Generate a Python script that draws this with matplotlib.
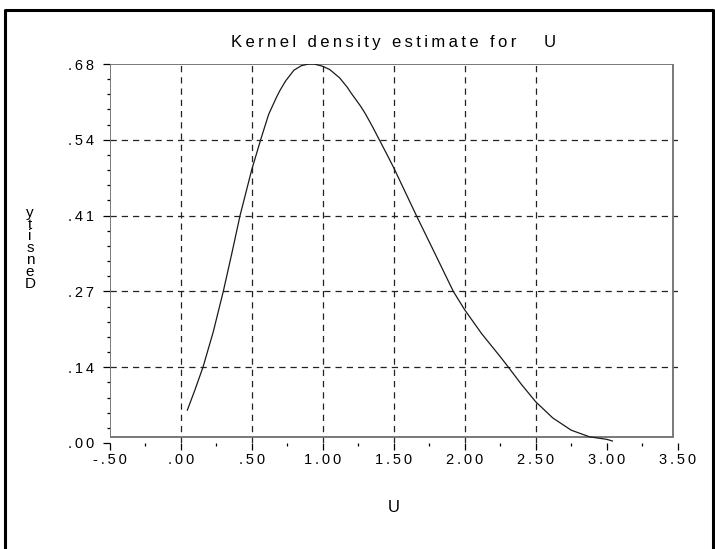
import matplotlib.pyplot as plt
from matplotlib.patches import Rectangle
from matplotlib.lines import Line2D
from matplotlib.ticker import FixedLocator, FixedFormatter, MultipleLocator

plt.rcParams['font.family'] = ['Liberation Sans', 'DejaVu Sans']

# kernel density curve
u = [0.047, 0.10, 0.157, 0.23, 0.30, 0.36, 0.418, 0.50, 0.563, 0.62, 0.676,
     0.70, 0.74, 0.798, 0.85, 0.90, 0.939, 1.0, 1.05, 1.12, 1.174, 1.20, 1.268,
     1.30, 1.35, 1.399, 1.45, 1.5, 1.58, 1.66, 1.80, 1.92, 2.0, 2.12, 2.25,
     2.308, 2.40, 2.5, 2.62, 2.75, 2.88, 3.0, 3.04]
dens = [0.059, 0.095, 0.136, 0.20, 0.272, 0.34, 0.408, 0.49, 0.544, 0.59, 0.621,
        0.633, 0.650, 0.669, 0.677, 0.680, 0.680, 0.676, 0.670, 0.655, 0.638, 0.628, 0.604,
        0.591, 0.568, 0.544, 0.519, 0.494, 0.451, 0.408, 0.335, 0.272, 0.239, 0.196, 0.155,
        0.136, 0.105, 0.074, 0.045, 0.023, 0.011, 0.0066, 0.0036]

x_ticks = [-0.5, 0.0, 0.5, 1.0, 1.5, 2.0, 2.5, 3.0, 3.5]
x_labels = ['-.50', '.00', '.50', '1.00', '1.50', '2.00', '2.50', '3.00', '3.50']
y_ticks = [0.0, 0.136, 0.272, 0.408, 0.544, 0.68]
y_labels = ['.00', '.14', '.27', '.41', '.54', '.68']


def spaced(s):
    # the original renderer sets its text with wide letter spacing
    return '\u2009'.join(s)


fig = plt.figure(figsize=(7.15, 5.49), dpi=100)
ax = fig.add_axes([0.1534, 0.1931, 0.7944, 0.6903])
ax.set_xlim(-0.5, 3.5)
ax.set_ylim(0, 0.68)
for s in ax.spines.values():
    s.set_visible(False)

# plot box (sits a little above y=0, as in the original)
ax.add_patch(Rectangle((-0.5, 0.01), 3.965, 0.67, fill=False,
                       edgecolor='#6e6e6e', linewidth=1.3, zorder=3))

for xv in x_ticks[1:-2]:
    ax.axvline(xv, color='#222222', linewidth=0.9, dashes=(5, 4), zorder=1)
for yv in y_ticks[1:-1]:
    ax.axhline(yv, color='#222222', linewidth=0.9, dashes=(5, 4), zorder=1)

ax.plot(u, dens, color='#1a1a1a', linewidth=0.9, zorder=4)

ax.xaxis.set_major_locator(FixedLocator(x_ticks))
ax.xaxis.set_major_formatter(FixedFormatter([spaced(t) for t in x_labels]))
ax.xaxis.set_minor_locator(MultipleLocator(0.25))
ax.yaxis.set_major_locator(FixedLocator(y_ticks))
ax.yaxis.set_major_formatter(FixedFormatter([spaced(t) for t in y_labels]))
ax.yaxis.set_minor_locator(MultipleLocator(0.68 / 25))
ax.tick_params(which='major', direction='out', length=5, width=0.9, labelsize=10.5)
ax.tick_params(axis='x', which='major', pad=2)
ax.tick_params(axis='y', which='major', pad=6)
ax.tick_params(which='minor', direction='out', length=2.2, width=0.9)

ax.set_title(spaced('Kernel density estimate for') + '      U', fontsize=12, pad=12)
ax.set_xlabel('U', fontsize=12, labelpad=24)
fig.text(0.042, 0.548, 'y\nt\ni\ns\nn\ne\nD', fontsize=11, linespacing=0.8,
         ha='center', va='center')

# outer frame (no bottom edge in the original)
fig.add_artist(Line2D([0.007, 0.007, 0.997, 0.997], [0.0, 0.982, 0.982, 0.0],
                      transform=fig.transFigure, color='black', linewidth=2.2))

fig.savefig('out.png', dpi=100)
